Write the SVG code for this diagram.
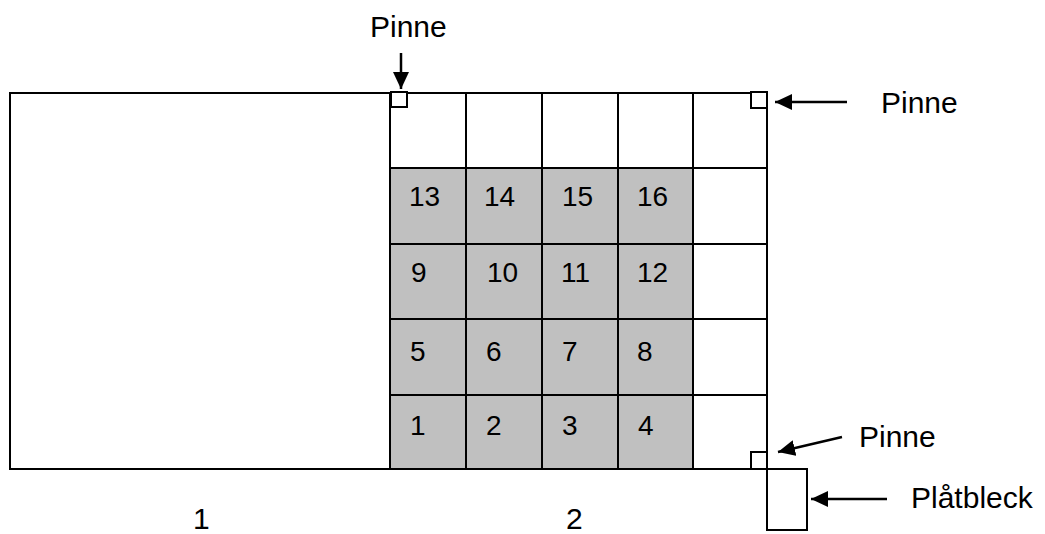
<svg xmlns="http://www.w3.org/2000/svg" width="1045" height="534" viewBox="0 0 1045 534">
<defs>
<marker id="ah" markerUnits="userSpaceOnUse" markerWidth="18" markerHeight="16" refX="17" refY="8" orient="auto">
<path d="M0,0 L17,8 L0,16 Z" fill="#000"/>
</marker>
<style>
.ln{stroke:#000;stroke-width:2;fill:none}
.cell{stroke:#000;stroke-width:2;fill:#fff}
.g{fill:#c0c0c0}
.t{font-family:"Liberation Sans",Arial,sans-serif;font-size:28px;fill:#000}
.l{font-family:"Liberation Sans",Arial,sans-serif;font-size:30px;fill:#000}
.ar{stroke:#000;stroke-width:2.5;fill:none;marker-end:url(#ah)}
</style>
</defs>
<rect width="1045" height="534" fill="#fff"/>
<g id="part1">
<rect class="cell" x="10" y="93" width="380" height="376"/>
<text class="l" x="193" y="529">1</text>
</g>
<g id="part2">
<rect class="g" x="390" y="168" width="303" height="301"/>
<rect class="ln" x="390" y="93" width="377" height="376"/>
<path class="ln" d="M466,93V469M542,93V469M618,93V469M693,93V469M390,168H767M390,244H767M390,319H767M390,395H767"/>
<text class="l" x="566" y="529">2</text>
</g>
<g id="cells">
<text class="t" x="409" y="206">13</text>
<text class="t" x="484" y="206">14</text>
<text class="t" x="562" y="206">15</text>
<text class="t" x="637" y="206">16</text>
<text class="t" x="411" y="282">9</text>
<text class="t" x="487" y="282">10</text>
<text class="t" x="561" y="282">11</text>
<text class="t" x="637" y="282">12</text>
<text class="t" x="410" y="361">5</text>
<text class="t" x="486" y="361">6</text>
<text class="t" x="562" y="361">7</text>
<text class="t" x="637" y="361">8</text>
<text class="t" x="410" y="435">1</text>
<text class="t" x="486" y="435">2</text>
<text class="t" x="562" y="435">3</text>
<text class="t" x="638" y="435">4</text>
</g>
<g id="pin-top-left">
<rect class="cell" x="391" y="92" width="16" height="15"/>
</g>
<g id="pin-top-right">
<rect class="cell" x="751" y="92" width="16" height="16"/>
</g>
<g id="pin-bottom-right">
<rect class="cell" x="751" y="452" width="16" height="17"/>
</g>
<g id="plate">
<rect class="ln" x="767" y="469" width="40" height="61"/>
</g>
<g id="labels">
<text class="l" x="370" y="37">Pinne</text>
<text class="l" x="881" y="113">Pinne</text>
<text class="l" x="859" y="447">Pinne</text>
<text class="l" x="911" y="508">Plåtbleck</text>
</g>
<g id="connectors">
<line class="ar" x1="401" y1="53" x2="401" y2="89"/>
<line class="ar" x1="847" y1="102" x2="775" y2="102"/>
<line class="ar" x1="842" y1="437" x2="778" y2="452"/>
<line class="ar" x1="887" y1="499" x2="811" y2="499"/>
</g>
</svg>
